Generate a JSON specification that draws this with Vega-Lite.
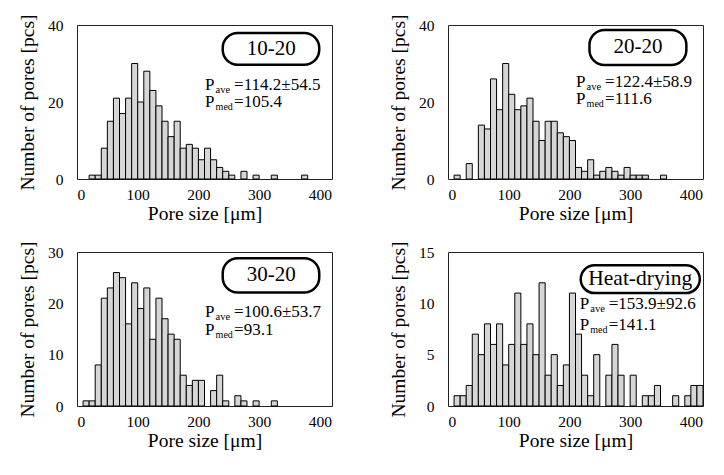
{
  "$schema": "https://vega.github.io/schema/vega-lite/v6.json",
  "padding": {"left": 16, "top": 13, "right": 0, "bottom": 0},
  "background": "white",
  "config": {
    "font": "Liberation Serif",
    "view": {"stroke": "#222", "strokeWidth": 1},
    "axis": {"labelFont": "Liberation Serif", "labelFontSize": 15.5, "labelColor": "black", "titleFont": "Liberation Serif", "titleFontSize": 19.5, "titleFontWeight": "normal", "titleColor": "black", "ticks": false, "grid": false, "domain": false},
    "axisX": {"labelPadding": 8, "titlePadding": 2},
    "axisY": {"labelPadding": 14, "titlePadding": 10},
    "text": {"font": "Liberation Serif", "color": "black"}
  },
  "datasets": {
    "p1": [{"lo":20,"hi":30,"n":1},{"lo":30,"hi":40,"n":1},{"lo":40,"hi":50,"n":8},{"lo":50,"hi":60,"n":15},{"lo":60,"hi":70,"n":21},{"lo":70,"hi":80,"n":17},{"lo":80,"hi":90,"n":21},{"lo":90,"hi":100,"n":30},{"lo":100,"hi":110,"n":20},{"lo":110,"hi":120,"n":28},{"lo":120,"hi":130,"n":23},{"lo":130,"hi":140,"n":19},{"lo":140,"hi":150,"n":15},{"lo":150,"hi":160,"n":11},{"lo":160,"hi":170,"n":15},{"lo":170,"hi":180,"n":8},{"lo":180,"hi":190,"n":9},{"lo":190,"hi":200,"n":8},{"lo":200,"hi":210,"n":5},{"lo":210,"hi":220,"n":8},{"lo":220,"hi":230,"n":5},{"lo":230,"hi":240,"n":3},{"lo":240,"hi":250,"n":2},{"lo":250,"hi":260,"n":1},{"lo":270,"hi":280,"n":2},{"lo":290,"hi":300,"n":1},{"lo":320,"hi":330,"n":1},{"lo":370,"hi":380,"n":1}],
    "p2": [{"lo":10,"hi":20,"n":1},{"lo":30,"hi":40,"n":4},{"lo":50,"hi":60,"n":14},{"lo":60,"hi":70,"n":13},{"lo":70,"hi":80,"n":26},{"lo":80,"hi":90,"n":18},{"lo":90,"hi":100,"n":30},{"lo":100,"hi":110,"n":22},{"lo":110,"hi":120,"n":18},{"lo":120,"hi":130,"n":19},{"lo":130,"hi":140,"n":21},{"lo":140,"hi":150,"n":15},{"lo":150,"hi":160,"n":10},{"lo":160,"hi":170,"n":15},{"lo":170,"hi":180,"n":15},{"lo":180,"hi":190,"n":12},{"lo":190,"hi":200,"n":11},{"lo":200,"hi":210,"n":10},{"lo":210,"hi":220,"n":3},{"lo":220,"hi":230,"n":2},{"lo":230,"hi":240,"n":5},{"lo":240,"hi":250,"n":1},{"lo":250,"hi":260,"n":2},{"lo":260,"hi":270,"n":3},{"lo":270,"hi":280,"n":2},{"lo":280,"hi":290,"n":1},{"lo":290,"hi":300,"n":3},{"lo":300,"hi":310,"n":1},{"lo":310,"hi":320,"n":1},{"lo":320,"hi":330,"n":1},{"lo":350,"hi":360,"n":1}],
    "p3": [{"lo":10,"hi":20,"n":1},{"lo":20,"hi":30,"n":1},{"lo":30,"hi":40,"n":8},{"lo":40,"hi":50,"n":21},{"lo":50,"hi":60,"n":23},{"lo":60,"hi":70,"n":26},{"lo":70,"hi":80,"n":25},{"lo":80,"hi":90,"n":16},{"lo":90,"hi":100,"n":24},{"lo":100,"hi":110,"n":19},{"lo":110,"hi":120,"n":23},{"lo":120,"hi":130,"n":13},{"lo":130,"hi":140,"n":21},{"lo":140,"hi":150,"n":17},{"lo":150,"hi":160,"n":14},{"lo":160,"hi":170,"n":13},{"lo":170,"hi":180,"n":6},{"lo":180,"hi":190,"n":4},{"lo":190,"hi":200,"n":5},{"lo":200,"hi":210,"n":5},{"lo":220,"hi":230,"n":3},{"lo":230,"hi":240,"n":6},{"lo":240,"hi":250,"n":1},{"lo":260,"hi":270,"n":2},{"lo":270,"hi":280,"n":1},{"lo":290,"hi":300,"n":1},{"lo":320,"hi":330,"n":1}],
    "p4": [{"lo":10,"hi":20,"n":1},{"lo":20,"hi":30,"n":1},{"lo":30,"hi":40,"n":2},{"lo":40,"hi":50,"n":7},{"lo":50,"hi":60,"n":5},{"lo":60,"hi":70,"n":8},{"lo":70,"hi":80,"n":6},{"lo":80,"hi":90,"n":8},{"lo":90,"hi":100,"n":4},{"lo":100,"hi":110,"n":6},{"lo":110,"hi":120,"n":11},{"lo":120,"hi":130,"n":6},{"lo":130,"hi":140,"n":8},{"lo":140,"hi":150,"n":5},{"lo":150,"hi":160,"n":12},{"lo":160,"hi":170,"n":3},{"lo":170,"hi":180,"n":5},{"lo":180,"hi":190,"n":2},{"lo":190,"hi":200,"n":4},{"lo":200,"hi":210,"n":11},{"lo":210,"hi":220,"n":7},{"lo":220,"hi":230,"n":3},{"lo":230,"hi":240,"n":1},{"lo":240,"hi":250,"n":5},{"lo":260,"hi":270,"n":3},{"lo":270,"hi":280,"n":6},{"lo":280,"hi":290,"n":3},{"lo":300,"hi":310,"n":3},{"lo":320,"hi":330,"n":1},{"lo":330,"hi":340,"n":1},{"lo":340,"hi":350,"n":2},{"lo":370,"hi":380,"n":1},{"lo":390,"hi":400,"n":1},{"lo":400,"hi":410,"n":2},{"lo":410,"hi":420,"n":2}]
  },
  "columns": 2,
  "spacing": {"row": 16, "column": 54},
  "concat": [
    {
      "width": 255, "height": 154,
      "layer": [
        {"data": {"name": "p1"}, "mark": {"type": "bar", "fill": "#d6d6d6", "stroke": "black", "strokeWidth": 1},
         "encoding": {
           "x": {"field": "lo", "type": "quantitative", "scale": {"domain": [0, 420], "nice": false, "zero": false}, "axis": {"values": [0, 100, 200, 300, 400], "title": "Pore size [μm]"}},
           "x2": {"field": "hi"},
           "y": {"field": "n", "type": "quantitative", "scale": {"domain": [0, 40], "nice": false}, "axis": {"values": [0, 10, 20, 30, 40], "title": "Number of pores [pcs]"}},
           "y2": {"datum": 0}}},
        {"data": {"values": [{}]}, "mark": {"type": "rect", "fill": "white", "stroke": "black", "strokeWidth": 2.5, "cornerRadius": 15},
         "encoding": {"x": {"datum": 240}, "x2": {"datum": 399}, "y": {"datum": 37.9}, "y2": {"datum": 29.7}}},
        {"data": {"values": [{}]}, "mark": {"type": "text", "text": "10-20", "fontSize": 21, "align": "center", "baseline": "middle"},
         "encoding": {"x": {"datum": 320}, "y": {"datum": 33.8}}},
        {"data": {"values": [{}]}, "mark": {"type": "text", "text": "P", "fontSize": 17, "align": "left", "baseline": "alphabetic"},
         "encoding": {"x": {"datum": 211}, "y": {"datum": 23.2}}},
        {"data": {"values": [{}]}, "mark": {"type": "text", "text": "ave", "fontSize": 10.5, "align": "left", "baseline": "alphabetic", "dx": 10.5, "dy": 3},
         "encoding": {"x": {"datum": 211}, "y": {"datum": 23.2}}},
        {"data": {"values": [{}]}, "mark": {"type": "text", "text": "=114.2±54.5", "fontSize": 17, "align": "left", "baseline": "alphabetic", "dx": 29},
         "encoding": {"x": {"datum": 211}, "y": {"datum": 23.2}}},
        {"data": {"values": [{}]}, "mark": {"type": "text", "text": "P", "fontSize": 17, "align": "left", "baseline": "alphabetic"},
         "encoding": {"x": {"datum": 211}, "y": {"datum": 18.7}}},
        {"data": {"values": [{}]}, "mark": {"type": "text", "text": "med", "fontSize": 10, "align": "left", "baseline": "alphabetic", "dx": 10.5, "dy": 3},
         "encoding": {"x": {"datum": 211}, "y": {"datum": 18.7}}},
        {"data": {"values": [{}]}, "mark": {"type": "text", "text": "=105.4", "fontSize": 17, "align": "left", "baseline": "alphabetic", "dx": 29},
         "encoding": {"x": {"datum": 211}, "y": {"datum": 18.7}}}
      ]
    },
    {
      "width": 255, "height": 154,
      "layer": [
        {"data": {"name": "p2"}, "mark": {"type": "bar", "fill": "#d6d6d6", "stroke": "black", "strokeWidth": 1},
         "encoding": {
           "x": {"field": "lo", "type": "quantitative", "scale": {"domain": [0, 420], "nice": false, "zero": false}, "axis": {"values": [0, 100, 200, 300, 400], "title": "Pore size [μm]"}},
           "x2": {"field": "hi"},
           "y": {"field": "n", "type": "quantitative", "scale": {"domain": [0, 40], "nice": false}, "axis": {"values": [0, 10, 20, 30, 40], "title": "Number of pores [pcs]"}},
           "y2": {"datum": 0}}},
        {"data": {"values": [{}]}, "mark": {"type": "rect", "fill": "white", "stroke": "black", "strokeWidth": 2.5, "cornerRadius": 15},
         "encoding": {"x": {"datum": 233}, "x2": {"datum": 392.6}, "y": {"datum": 38.7}, "y2": {"datum": 29.6}}},
        {"data": {"values": [{}]}, "mark": {"type": "text", "text": "20-20", "fontSize": 21, "align": "center", "baseline": "middle"},
         "encoding": {"x": {"datum": 313}, "y": {"datum": 34.2}}},
        {"data": {"values": [{}]}, "mark": {"type": "text", "text": "P", "fontSize": 17, "align": "left", "baseline": "alphabetic"},
         "encoding": {"x": {"datum": 211}, "y": {"datum": 24.0}}},
        {"data": {"values": [{}]}, "mark": {"type": "text", "text": "ave", "fontSize": 10.5, "align": "left", "baseline": "alphabetic", "dx": 10.5, "dy": 3},
         "encoding": {"x": {"datum": 211}, "y": {"datum": 24.0}}},
        {"data": {"values": [{}]}, "mark": {"type": "text", "text": "=122.4±58.9", "fontSize": 17, "align": "left", "baseline": "alphabetic", "dx": 29},
         "encoding": {"x": {"datum": 211}, "y": {"datum": 24.0}}},
        {"data": {"values": [{}]}, "mark": {"type": "text", "text": "P", "fontSize": 17, "align": "left", "baseline": "alphabetic"},
         "encoding": {"x": {"datum": 211}, "y": {"datum": 19.4}}},
        {"data": {"values": [{}]}, "mark": {"type": "text", "text": "med", "fontSize": 10, "align": "left", "baseline": "alphabetic", "dx": 10.5, "dy": 3},
         "encoding": {"x": {"datum": 211}, "y": {"datum": 19.4}}},
        {"data": {"values": [{}]}, "mark": {"type": "text", "text": "=111.6", "fontSize": 17, "align": "left", "baseline": "alphabetic", "dx": 29},
         "encoding": {"x": {"datum": 211}, "y": {"datum": 19.4}}}
      ]
    },
    {
      "width": 255, "height": 154,
      "layer": [
        {"data": {"name": "p3"}, "mark": {"type": "bar", "fill": "#d6d6d6", "stroke": "black", "strokeWidth": 1},
         "encoding": {
           "x": {"field": "lo", "type": "quantitative", "scale": {"domain": [0, 420], "nice": false, "zero": false}, "axis": {"values": [0, 100, 200, 300, 400], "title": "Pore size [μm]"}},
           "x2": {"field": "hi"},
           "y": {"field": "n", "type": "quantitative", "scale": {"domain": [0, 30], "nice": false}, "axis": {"values": [0, 5, 10, 15, 20, 25, 30], "title": "Number of pores [pcs]"}},
           "y2": {"datum": 0}}},
        {"data": {"values": [{}]}, "mark": {"type": "rect", "fill": "white", "stroke": "black", "strokeWidth": 2.5, "cornerRadius": 15},
         "encoding": {"x": {"datum": 240}, "x2": {"datum": 399}, "y": {"datum": 28.8}, "y2": {"datum": 22.1}}},
        {"data": {"values": [{}]}, "mark": {"type": "text", "text": "30-20", "fontSize": 21, "align": "center", "baseline": "middle"},
         "encoding": {"x": {"datum": 320}, "y": {"datum": 25.5}}},
        {"data": {"values": [{}]}, "mark": {"type": "text", "text": "P", "fontSize": 17, "align": "left", "baseline": "alphabetic"},
         "encoding": {"x": {"datum": 211}, "y": {"datum": 17.4}}},
        {"data": {"values": [{}]}, "mark": {"type": "text", "text": "ave", "fontSize": 10.5, "align": "left", "baseline": "alphabetic", "dx": 10.5, "dy": 3},
         "encoding": {"x": {"datum": 211}, "y": {"datum": 17.4}}},
        {"data": {"values": [{}]}, "mark": {"type": "text", "text": "=100.6±53.7", "fontSize": 17, "align": "left", "baseline": "alphabetic", "dx": 29},
         "encoding": {"x": {"datum": 211}, "y": {"datum": 17.4}}},
        {"data": {"values": [{}]}, "mark": {"type": "text", "text": "P", "fontSize": 17, "align": "left", "baseline": "alphabetic"},
         "encoding": {"x": {"datum": 211}, "y": {"datum": 13.9}}},
        {"data": {"values": [{}]}, "mark": {"type": "text", "text": "med", "fontSize": 10, "align": "left", "baseline": "alphabetic", "dx": 10.5, "dy": 3},
         "encoding": {"x": {"datum": 211}, "y": {"datum": 13.9}}},
        {"data": {"values": [{}]}, "mark": {"type": "text", "text": "=93.1", "fontSize": 17, "align": "left", "baseline": "alphabetic", "dx": 29},
         "encoding": {"x": {"datum": 211}, "y": {"datum": 13.9}}}
      ]
    },
    {
      "width": 255, "height": 154,
      "layer": [
        {"data": {"name": "p4"}, "mark": {"type": "bar", "fill": "#d6d6d6", "stroke": "black", "strokeWidth": 1},
         "encoding": {
           "x": {"field": "lo", "type": "quantitative", "scale": {"domain": [0, 420], "nice": false, "zero": false}, "axis": {"values": [0, 100, 200, 300, 400], "title": "Pore size [μm]"}},
           "x2": {"field": "hi"},
           "y": {"field": "n", "type": "quantitative", "scale": {"domain": [0, 15], "nice": false}, "axis": {"values": [0, 5, 10, 15], "title": "Number of pores [pcs]"}},
           "y2": {"datum": 0}}},
        {"data": {"values": [{}]}, "mark": {"type": "rect", "fill": "white", "stroke": "black", "strokeWidth": 2.5, "cornerRadius": 14},
         "encoding": {"x": {"datum": 218.6}, "x2": {"datum": 414.7}, "y": {"datum": 13.7}, "y2": {"datum": 11.0}}},
        {"data": {"values": [{}]}, "mark": {"type": "text", "text": "Heat-drying", "fontSize": 21.5, "align": "center", "baseline": "middle"},
         "encoding": {"x": {"datum": 316.6}, "y": {"datum": 12.37}}},
        {"data": {"values": [{}]}, "mark": {"type": "text", "text": "P", "fontSize": 17, "align": "left", "baseline": "alphabetic"},
         "encoding": {"x": {"datum": 217}, "y": {"datum": 9.4}}},
        {"data": {"values": [{}]}, "mark": {"type": "text", "text": "ave", "fontSize": 10.5, "align": "left", "baseline": "alphabetic", "dx": 10.5, "dy": 3},
         "encoding": {"x": {"datum": 217}, "y": {"datum": 9.4}}},
        {"data": {"values": [{}]}, "mark": {"type": "text", "text": "=153.9±92.6", "fontSize": 17, "align": "left", "baseline": "alphabetic", "dx": 29},
         "encoding": {"x": {"datum": 217}, "y": {"datum": 9.4}}},
        {"data": {"values": [{}]}, "mark": {"type": "text", "text": "P", "fontSize": 17, "align": "left", "baseline": "alphabetic"},
         "encoding": {"x": {"datum": 217}, "y": {"datum": 7.4}}},
        {"data": {"values": [{}]}, "mark": {"type": "text", "text": "med", "fontSize": 10, "align": "left", "baseline": "alphabetic", "dx": 10.5, "dy": 3},
         "encoding": {"x": {"datum": 217}, "y": {"datum": 7.4}}},
        {"data": {"values": [{}]}, "mark": {"type": "text", "text": "=141.1", "fontSize": 17, "align": "left", "baseline": "alphabetic", "dx": 29},
         "encoding": {"x": {"datum": 217}, "y": {"datum": 7.4}}}
      ]
    }
  ]
}
